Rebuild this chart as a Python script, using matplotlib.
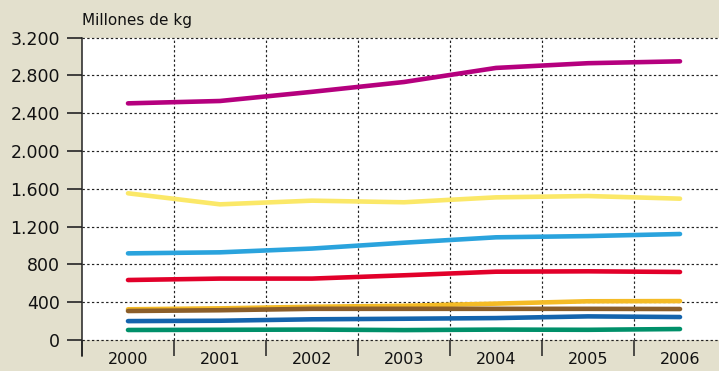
import matplotlib
matplotlib.use("Agg")
import matplotlib.pyplot as plt
from matplotlib.ticker import FuncFormatter

years = [2000, 2001, 2002, 2003, 2004, 2005, 2006]
magenta = [2505, 2530, 2627, 2731, 2880, 2930, 2950]
yellow = [1553, 1436, 1475, 1458, 1510, 1524, 1496]
lightblue = [917, 928, 968, 1030, 1087, 1100, 1122]
red = [635, 650, 650, 685, 723, 727, 720]
gold = [325, 335, 352, 362, 385, 410, 412]
brown = [307, 315, 330, 330, 330, 330, 328]
darkblue = [200, 204, 219, 225, 232, 250, 243]
green = [106, 108, 110, 105, 110, 108, 116]
yticks = [0, 400, 800, 1200, 1600, 2000, 2400, 2800, 3200]
ylabel_text = "Millones de kg"

series = [
    (magenta, "#B5007E"),
    (yellow, "#FBE868"),
    (lightblue, "#2AA3DD"),
    (red, "#E2002A"),
    (gold, "#F4BB26"),
    (brown, "#8B5E2A"),
    (darkblue, "#1464AD"),
    (green, "#00906A"),
]

bg = "#E3E0CD"
fig = plt.figure(figsize=(7.19, 3.71), dpi=100, facecolor=bg)
ax = fig.add_axes([82/719, (371-340)/371, 1 - 82/719, (340-37.7)/371])
ax.set_facecolor("white")

for vals, col in series:
    ax.plot(years, vals, color=col, lw=3.3, solid_capstyle="round",
            solid_joinstyle="round", zorder=3)

ax.set_ylim(0, 3200)
ax.set_xlim(1999.5, 1999.5 + 637/92)

ax.set_yticks(yticks)
ax.yaxis.set_major_formatter(FuncFormatter(lambda v, p: f"{int(v):,}".replace(",", ".")))
ax.tick_params(axis="y", direction="out", length=11, width=1.3, color="#333333",
               labelsize=12.5, pad=5, labelcolor="#111111")

bounds = [y + 0.5 for y in range(1999, 2006)]
ax.set_xticks(bounds)
ax.set_xticklabels([])
ax.set_xticks(years, minor=True)
ax.set_xticklabels([str(y) for y in years], minor=True)
ax.tick_params(axis="x", which="major", direction="out", length=11.5, width=1.1,
               color="#222222")
ax.tick_params(axis="x", which="minor", length=0, labelsize=11.5, pad=9,
               labelcolor="#111111")

for s in ["top", "right", "bottom"]:
    ax.spines[s].set_visible(False)
ax.spines["left"].set_color("#222222")
ax.spines["left"].set_linewidth(1.1)
ax.spines["left"].set_bounds(-0.053 * 3200, 3200)
ax.spines["left"].set_clip_on(False)

for y in yticks:
    ax.axhline(y, color="#222222", lw=0.85, ls=(0, (2.0, 2.0)), zorder=1, clip_on=False)
for x in bounds[1:]:
    ax.axvline(x, color="#222222", lw=0.85, ls=(0, (2.0, 2.0)), zorder=1)

fig.text(82/719, 1 - 21/371, ylabel_text, fontsize=11, va="center", ha="left",
         color="#111111")

fig.savefig("out.png", dpi=100, facecolor=bg)
